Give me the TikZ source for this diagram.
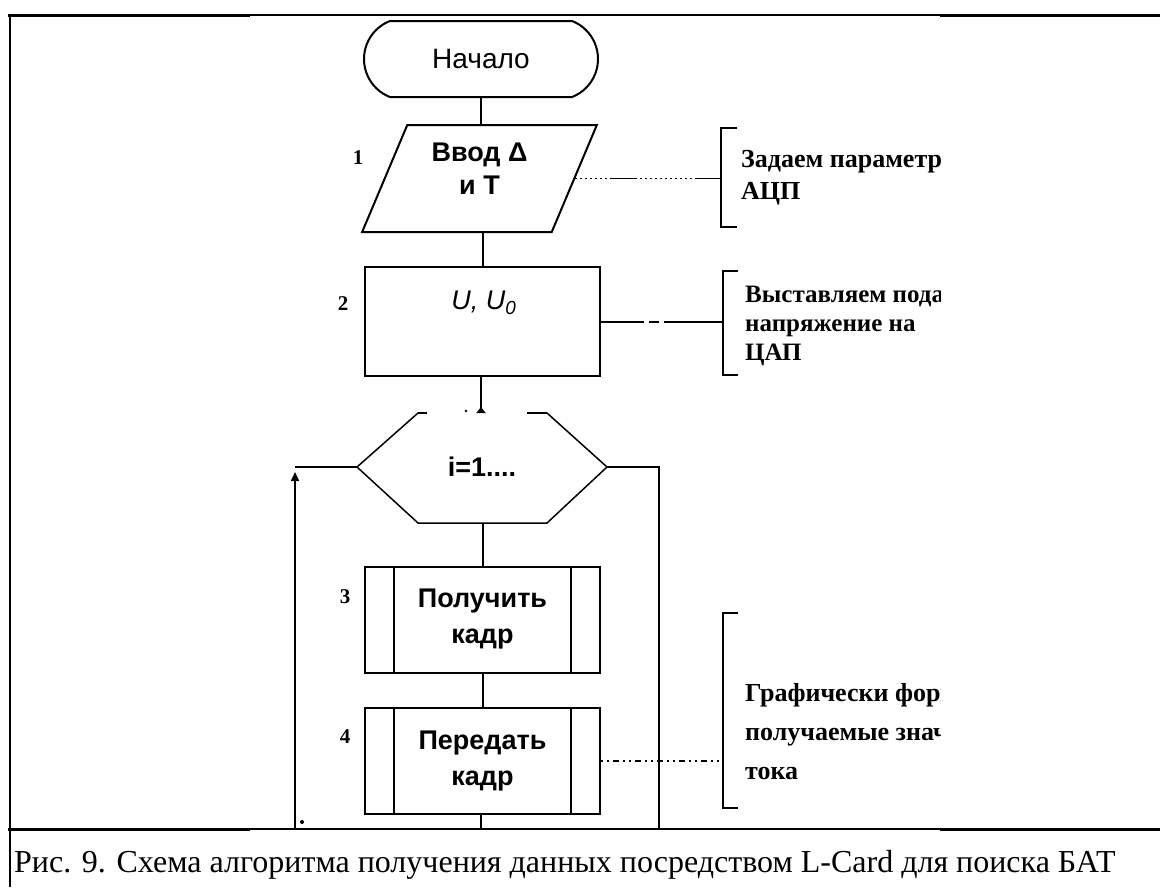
\documentclass[tikz,border=0pt]{standalone}
\usepackage{fontspec}
\setmainfont{Liberation Serif}
\newfontfamily\sansf{Liberation Sans}
\usetikzlibrary{shapes.misc,shapes.geometric,arrows.meta}
\tikzset{
  ln/.style={line width=2pt},
  flowtext/.style={font=\sansf\bfseries\fontsize{27}{33}\selectfont, align=center},
  term/.style={draw, ln, rounded rectangle, rounded rectangle arc length=137,
    minimum width=234pt, minimum height=76pt, inner sep=0pt,
    font=\sansf\fontsize{28}{32}\selectfont},
  inbox/.style={draw, ln, trapezium, trapezium left angle=67, trapezium right angle=113,
    trapezium stretches=true, minimum width=235pt, minimum height=107pt, inner sep=0pt, flowtext,
    text depth=19pt},
  procbox/.style={draw, ln, rectangle, minimum width=235pt, minimum height=109pt, inner sep=0pt},
  pproc/.style={draw, ln, rectangle, minimum width=235pt, minimum height=106pt, inner sep=0pt,
    font=\sansf\bfseries\fontsize{27}{36}\selectfont, align=center,
    path picture={
      \draw[ln] ([xshift=29pt]path picture bounding box.north west) -- ([xshift=29pt]path picture bounding box.south west);
      \draw[ln] ([xshift=-29pt]path picture bounding box.north east) -- ([xshift=-29pt]path picture bounding box.south east);}},
  numlbl/.style={font=\bfseries\fontsize{21}{24}\selectfont},
  anntext/.style={align=left, anchor=west, inner sep=0pt},
  bracket/.style={ln},
  ann1line/.style={line width=1.6pt, dash pattern=on 2pt off 3pt on 2pt off 3pt on 2pt off 3pt on 2pt off 3pt on 2pt off 3pt on 2pt off 3pt on 2pt off 3pt on 27pt off 3pt on 2pt off 3pt on 2pt off 3pt on 2pt off 3pt on 2pt off 3pt on 2pt off 3pt on 2pt off 3pt on 2pt off 3pt on 2pt off 3pt on 2pt off 3pt on 2pt off 3pt on 2pt off 3pt on 40pt off 1pt},
  ann2line/.style={ln, dash pattern=on 43pt off 5pt on 10pt off 5pt on 80pt off 1pt},
  ann4line/.style={line width=1.6pt, dash pattern=on 2pt off 4pt on 2pt off 4pt on 6pt off 4pt},
}
\begin{document}
\begin{tikzpicture}[x=1pt,y=-1pt]
\useasboundingbox (0,0) rectangle (1160,887);
\fill[white] (0,0) rectangle (1160,887);

% page frame
\draw[line width=3pt] (8,15) -- (250,15);
\draw[line width=2pt] (250,15) -- (940,15);
\draw[line width=3pt] (940,15) -- (1160,15);
\draw[line width=3pt] (8,829) -- (250,829);
\draw[line width=2pt] (250,829) -- (940,829);
\draw[line width=3pt] (940,829) -- (1160,829);
\draw[line width=2.4pt] (10,15) -- (10,887);

% nodes
\node[term] (start) at (481,59) {Начало};
\node[inbox] (inp) at (479.5,178.5) {Ввод Δ\\и Т};
\node[procbox] (set) at (482.5,321.5) {};
\node[font=\sansf\itshape\fontsize{27}{32}\selectfont] (settxt) at (484,303) {U, U\textsubscript{0}};
\node[pproc] (get) at (482.5,619.5) {Получить\\кадр};
\node[pproc] (send) at (482.5,761) {Передать\\кадр};

\node[numlbl] (n1) at (358,158) {1};
\node[numlbl] (n2) at (343,304) {2};
\node[numlbl] (n3) at (345,597) {3};
\node[numlbl] (n4) at (345,737) {4};

% loop limit hexagon
\coordinate (hT) at (481,413);
\coordinate (hTL) at (418,413);
\coordinate (hTR) at (547,413);
\coordinate (hL) at (357,467);
\coordinate (hR) at (607,467);
\coordinate (hBL) at (418,523);
\coordinate (hBR) at (547,523);
\coordinate (hB) at (483,523);
\node[flowtext] (cnt) at (482,467) {i=1....};
\draw[line width=1.5pt] (hTL) -- (hL) -- (hBL) -- (hBR) -- (hR) -- (hTR);
\draw[ln] (hTL) -- ++(9,0);
\draw[ln] (hTR) -- ++(-20,0);

% connectors
\draw[ln] (start.south) -- (start.south |- inp.north);
\draw[ln] (inp.south -| set.north) -- (set.north);
\draw[ln, -{Triangle[reversed,width=9pt,length=6pt]}] (set.south -| hT) -- (hT);
\fill (466,411) circle (1.3pt);
\draw[ln] (hB) -- (hB |- get.north);
\draw[ln] (get.south -| send.north) -- (send.north);

\coordinate (lpL) at (295,467);
\coordinate (lpLb) at (295,829);
\coordinate (lpR) at (659,467);
\coordinate (lpRb) at (659,829);
\coordinate (cB) at (481,829);
\draw[ln] (send.south -| cB) -- (cB);
\draw[ln, -{Triangle[width=8pt,length=9pt]}] (lpLb) -- ([yshift=-5pt]lpL);
\draw[ln] (lpL) -- (hL);
\fill (302,822) circle (2pt);
\draw[ln] (hR) -- (lpR) -- (lpRb);

% annotations
\coordinate (b1t) at (721,128);
\coordinate (b1b) at (721,227);
\coordinate (b2t) at (723,271);
\coordinate (b2b) at (723,375);
\coordinate (b3t) at (723,613);
\coordinate (b3b) at (723,808);
\draw[bracket] ([xshift=16pt]b1t) -- (b1t) -- (b1b) -- ([xshift=16pt]b1b);
\draw[bracket] ([xshift=15pt]b2t) -- (b2t) -- (b2b) -- ([xshift=15pt]b2b);
\draw[bracket] ([xshift=15pt]b3t) -- (b3t) -- (b3b) -- ([xshift=15pt]b3b);

\draw[ann1line] (inp.east) -- (inp.east -| b1t);
\draw[ann2line] (set.east) -- (set.east -| b2t);
\draw[ann4line] (send.east) -- (send.east -| b3t);

\begin{scope}
\clip (10,15) rectangle (940,829);
\node[anntext, font=\bfseries\fontsize{26}{32}\selectfont] (a1) at (741,178) {Задаем параметры\\АЦП};
\node[anntext, font=\bfseries\fontsize{25}{29}\selectfont] (a2) at (745,326) {Выставляем подаваемое\\напряжение на\\ЦАП};
\node[anntext, font=\bfseries\fontsize{26}{39}\selectfont] (a3) at (745,732) {Графически формируем\\получаемые значения\\тока};
\end{scope}

% caption
\node[anchor=base west, inner sep=0pt, font=\fontsize{32}{36}\selectfont] (cap) at (14,872) {Рис. 9. Схема алгоритма получения данных посредством L-Card для поиска БАТ};
\end{tikzpicture}
\end{document}
